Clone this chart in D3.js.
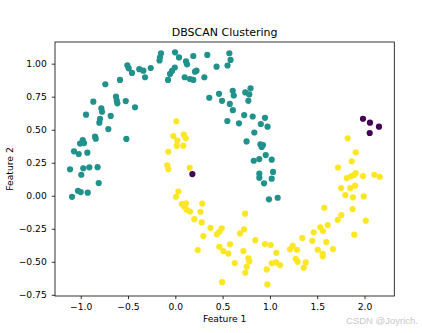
<!DOCTYPE html>
<html><head><meta charset="utf-8">
<script src="https://cdn.jsdelivr.net/npm/d3@7"></script>
<style>
html,body{margin:0;padding:0;background:#fff;}
svg{display:block;font-family:"DejaVu Sans",sans-serif;}
</style></head>
<body>
<svg id="c" width="422" height="333"></svg>
<script>
const title = "DBSCAN Clustering";
const xLabel = "Feature 1";
const yLabel = "Feature 2";
const xTicks = [-1.0, -0.5, 0.0, 0.5, 1.0, 1.5, 2.0];
const yTicks = [-0.75, -0.5, -0.25, 0.0, 0.25, 0.5, 0.75, 1.0];
const xDomain = [-1.272, 2.315];
const yDomain = [-0.759, 1.164];
const clusterLabels = [-1, 0, 1];

// cluster 0 (upper moon)
const cluster0 = [
[-0.151,1.079],[-0.162,1.048],[-0.167,1.024],[-0.003,1.086],[0.039,1.047],[0.113,1.017],[0.124,0.995],
[0.190,1.058],[0.338,1.066],[0.571,1.079],[0.584,1.028],[0.552,0.986],[0.436,0.977],[-0.507,0.988],
[-0.493,0.965],[-0.458,0.930],[-0.381,0.958],[-0.338,0.947],[-0.320,0.897],[-0.260,0.967],[-0.077,0.877],
[-0.056,0.922],[-0.035,0.945],[-0.006,0.971],[0.099,0.897],[0.155,0.884],[0.190,0.877],[0.208,0.939],
[0.224,0.947],[0.307,0.897],[0.359,0.742],[0.462,0.772],[0.494,0.719],[0.576,0.695],[0.608,0.648],
[0.607,0.795],[0.618,0.759],[0.740,0.782],[0.795,0.814],[0.782,0.767],[0.772,0.719],[0.550,0.566],
[0.673,0.548],[0.728,0.611],[0.818,0.600],[0.948,0.590],[0.904,0.543],[0.975,0.523],[0.835,0.479],
[0.753,0.411],[0.899,0.389],[0.913,0.369],[0.927,0.384],[0.956,0.308],[0.888,0.278],[0.829,0.265],
[1.019,0.273],[0.888,0.167],[0.888,0.136],[1.033,0.180],[1.019,0.129],[0.938,0.094],[0.990,-0.027],
[1.082,-0.015],[-0.740,0.844],[-0.585,0.877],[-0.867,0.712],[-0.627,0.750],[-0.619,0.720],[-0.613,0.700],
[-0.524,0.717],[-0.426,0.670],[-0.944,0.614],[-0.782,0.662],[-0.775,0.636],[-0.683,0.604],[-0.796,0.583],
[-0.803,0.553],[-0.708,0.505],[-0.518,0.430],[-1.071,0.336],[-1.021,0.316],[-0.979,0.422],[-1.007,0.395],
[-0.965,0.399],[-0.849,0.447],[-0.841,0.432],[-0.930,0.326],[-1.113,0.200],[-0.973,0.208],[-0.909,0.215],
[-0.822,0.216],[-0.994,0.159],[-0.810,0.096],[-1.029,0.038],[-1.000,0.028],[-0.926,0.023],[-1.092,-0.008]
];

// cluster 1 (lower moon)
const cluster1 = [
[0.011,0.564],[-0.021,0.452],[0.089,0.462],[0.110,0.435],[0.021,0.417],[0.015,0.377],[0.085,0.379],
[-0.074,0.333],[-0.085,0.230],[-0.074,0.202],[0.152,0.212],[0.032,0.032],[0.007,-0.008],[0.068,-0.063],
[0.113,-0.058],[0.092,-0.080],[0.118,-0.105],[0.155,-0.120],[0.285,-0.059],[0.266,-0.121],[0.201,-0.177],
[0.279,-0.202],[0.372,-0.243],[0.490,-0.247],[0.465,-0.273],[0.438,-0.292],[0.296,-0.305],[0.237,-0.411],
[0.465,-0.386],[0.507,-0.419],[0.560,-0.438],[0.578,-0.368],[0.628,-0.510],[0.719,-0.419],[0.684,-0.285],
[0.726,-0.255],[0.737,-0.136],[0.772,-0.474],[0.782,-0.497],[0.755,-0.538],[0.740,-0.583],[0.494,-0.654],
[0.846,-0.336],[0.948,-0.366],[1.008,-0.373],[1.068,-0.432],[0.966,-0.558],[1.019,-0.512],[1.064,-0.505],
[1.107,-0.525],[0.973,-0.671],[1.212,-0.406],[1.286,-0.409],[1.241,-0.379],[1.273,-0.477],[1.294,-0.500],
[1.378,-0.505],[1.357,-0.545],[1.342,-0.320],[1.448,-0.341],[1.463,-0.277],[1.505,-0.409],[1.558,-0.439],
[1.558,-0.459],[1.596,-0.351],[1.667,-0.404],[1.533,-0.239],[1.561,-0.267],[1.611,-0.222],[1.575,-0.091],
[1.755,-0.146],[1.717,-0.182],[1.875,-0.101],[2.013,-0.189],[1.892,-0.295],[1.797,0.005],[1.878,-0.012],
[1.992,-0.005],[1.752,0.058],[1.850,0.058],[1.900,0.076],[1.812,0.134],[1.857,0.147],[1.907,0.172],
[1.889,0.157],[1.984,0.149],[2.104,0.159],[2.161,0.144],[1.720,0.214],[1.865,0.261],[1.907,0.329],
[1.822,0.435]
];

// noise points (label -1)
const noise = [
[1.984,0.583],[2.058,0.553],[2.153,0.523],[2.055,0.475],[0.180,0.164]
];

const colors = ["#440154", "#21918c", "#fde725"];
const watermark = "CSDN @Joyrich.";

const svg = d3.select("#c");
const L = 55, R = 394.3, T = 42, B = 296;
const x = d3.scaleLinear().domain(xDomain).range([L, R]);
const y = d3.scaleLinear().domain(yDomain).range([B, T]);
const color = d3.scaleOrdinal().domain(clusterLabels).range(colors);

const pts = [];
cluster0.forEach(d => pts.push({x:d[0], y:d[1], c:0}));
cluster1.forEach(d => pts.push({x:d[0], y:d[1], c:1}));
noise.forEach(d => pts.push({x:d[0], y:d[1], c:-1}));

svg.append("g").selectAll("circle").data(pts).join("circle")
  .attr("cx", d => x(d.x)).attr("cy", d => y(d.y)).attr("r", 3.1)
  .attr("fill", d => color(d.c));

const fmtX = d3.format(".1f"), fmtY = d3.format(".2f");
const gx = svg.append("g").attr("transform", `translate(0,${B})`)
  .call(d3.axisBottom(x).tickValues(xTicks).tickFormat(fmtX).tickSize(3.2).tickPadding(4).tickSizeOuter(0));
const gy = svg.append("g").attr("transform", `translate(${L},0)`)
  .call(d3.axisLeft(y).tickValues(yTicks).tickFormat(fmtY).tickSize(3.2).tickPadding(5).tickSizeOuter(0));
[gx, gy].forEach(g => {
  g.select(".domain").remove();
  g.selectAll("text").attr("font-size", 9.2).attr("fill", "#000").attr("font-family", "DejaVu Sans");
  g.selectAll("line").attr("stroke", "#000").attr("stroke-width", 0.8);
});

svg.append("rect").attr("x", L).attr("y", T).attr("width", R - L).attr("height", B - T)
  .attr("fill", "none").attr("stroke", "#000").attr("stroke-width", 0.8);

svg.append("text").attr("x", (L + R) / 2).attr("y", 36).attr("text-anchor", "middle")
  .attr("font-size", 11).attr("fill", "#000").text(title);
svg.append("text").attr("x", (L + R) / 2).attr("y", 322).attr("text-anchor", "middle")
  .attr("font-size", 9.2).attr("fill", "#000").text(xLabel);
svg.append("text").attr("transform", `translate(12.7,${(T + B) / 2}) rotate(-90)`).attr("text-anchor", "middle")
  .attr("font-size", 9.2).attr("fill", "#000").text(yLabel);
svg.append("text").attr("x", 418).attr("y", 324).attr("text-anchor", "end")
  .attr("font-size", 9.5).attr("font-family", "Liberation Sans, Arial, sans-serif")
  .attr("fill", "#c8c8c8").text(watermark);
</script>
</body></html>
